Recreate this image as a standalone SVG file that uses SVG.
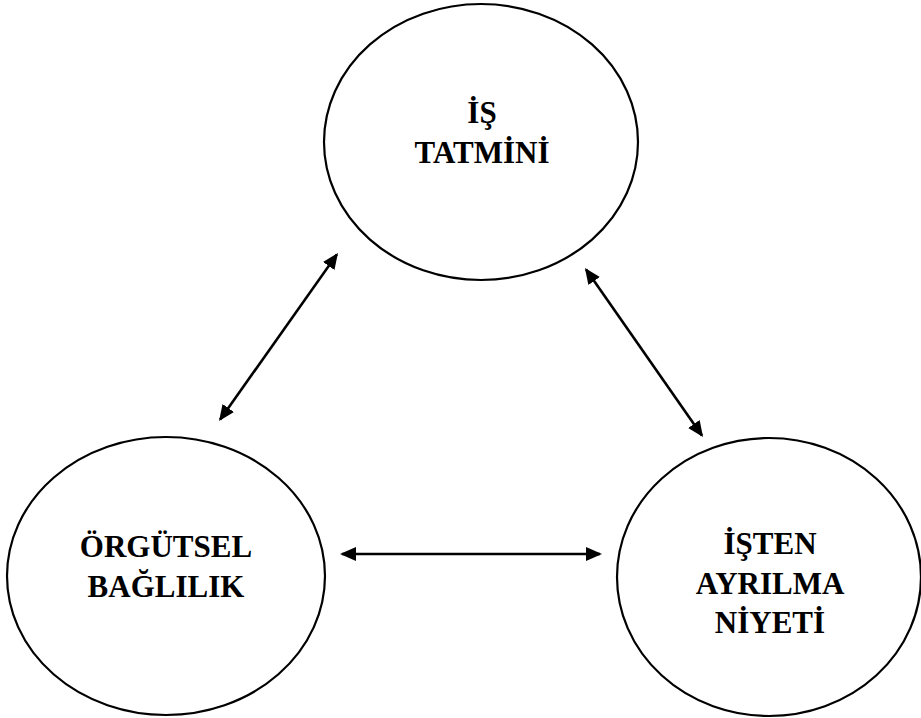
<svg xmlns="http://www.w3.org/2000/svg" width="921" height="718" viewBox="0 0 921 718">
<style>
.node{fill:#fff;stroke:#000;stroke-width:2.2}
.lbl{font-family:"Liberation Serif","Times New Roman",serif;font-weight:bold;font-size:31px;fill:#000;text-anchor:middle}
.conn{stroke:#000;stroke-width:2.6;fill:none;marker-start:url(#ah);marker-end:url(#ah)}
</style>
<defs>
<marker id="ah" markerUnits="userSpaceOnUse" markerWidth="18" markerHeight="16" viewBox="0 0 18 16" refX="14" refY="8" orient="auto-start-reverse">
<path d="M0,1 L16,8 L0,15 z" fill="#000"/>
</marker>
</defs>
<rect width="921" height="718" fill="#fff"/>
<g id="is-tatmini">
<ellipse class="node" cx="481" cy="142" rx="157" ry="138"/>
<text class="lbl" x="482" y="123">İŞ</text>
<text class="lbl" x="482" y="163">TATMİNİ</text>
</g>
<g id="orgutsel-baglilik">
<ellipse class="node" cx="166" cy="576" rx="159" ry="139"/>
<text class="lbl" x="166" y="557">ÖRGÜTSEL</text>
<text class="lbl" x="166" y="597">BAĞLILIK</text>
</g>
<g id="isten-ayrilma-niyeti">
<ellipse class="node" cx="769" cy="577" rx="152" ry="139"/>
<text class="lbl" x="770" y="554">İŞTEN</text>
<text class="lbl" x="770" y="594">AYRILMA</text>
<text class="lbl" x="770" y="633">NİYETİ</text>
</g>
<g id="connectors">
<line class="conn" x1="220.2" y1="419.4" x2="336.8" y2="254.6"/>
<line class="conn" x1="586.1" y1="269.6" x2="701.9" y2="435.4"/>
<line class="conn" x1="342" y1="554" x2="600" y2="554"/>
</g>
</svg>
